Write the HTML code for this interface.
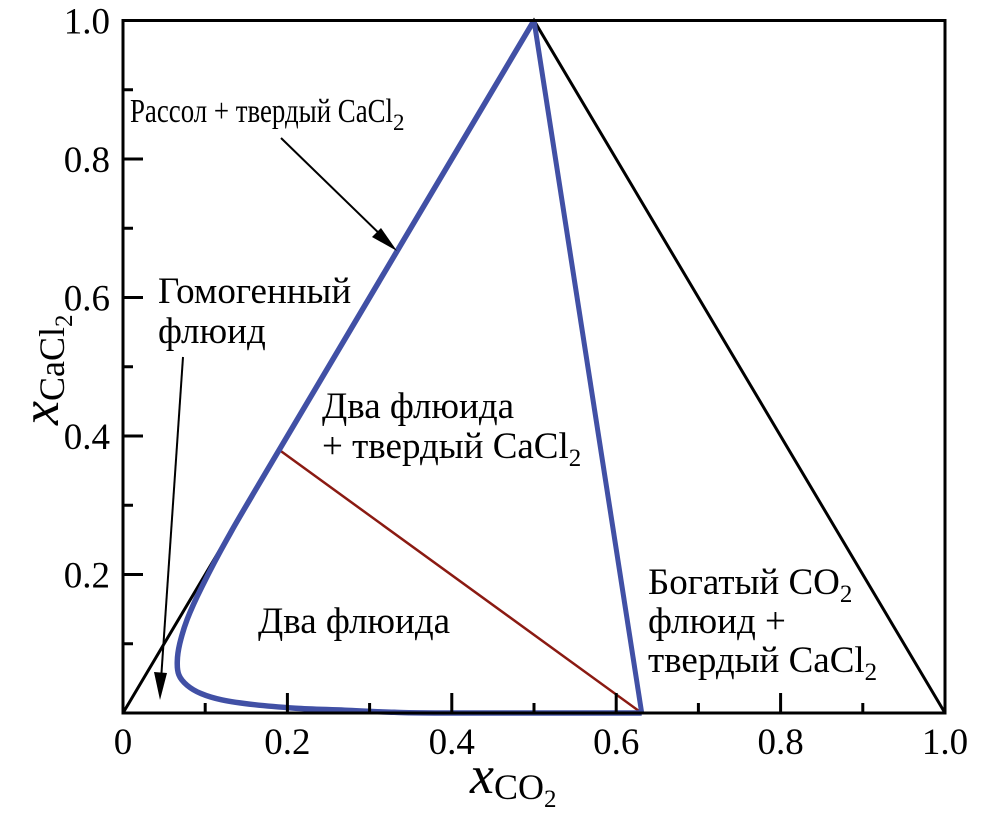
<!DOCTYPE html>
<html><head><meta charset="utf-8"><style>
html,body{margin:0;padding:0;background:#fff;}
svg, svg text, svg tspan{font-family:"Liberation Serif","DejaVu Serif","Times New Roman",serif !important;}
</style></head><body>
<svg id="chart" width="985" height="814" viewBox="0 0 985 814">
<g id="marks"></g>
<g id="axes"></g>
<g font-size="37" fill="#000">
<text x="130" y="122" font-size="34" textLength="263" lengthAdjust="spacingAndGlyphs">Рассол + твердый CaCl</text>
<text x="393" y="130" font-size="23">2</text>
<text x="158" y="303">Гомогенный</text>
<text x="158" y="343">флюид</text>
<text x="322" y="418">Два флюида</text>
<text x="322" y="458">+ твердый CaCl<tspan font-size="25" dy="8">2</tspan></text>
<text x="258" y="633">Два флюида</text>
<text x="648" y="594">Богатый CO<tspan font-size="25" dy="8">2</tspan></text>
<text x="648" y="633">флюид +</text>
<text x="648" y="672">твердый CaCl<tspan font-size="25" dy="8">2</tspan></text>
</g>
<g>
<line x1="281" y1="138" x2="385" y2="239" stroke="#000" stroke-width="2"/>
<polygon points="397,251 372,237 381,228" fill="#000"/>
</g>
<g>
<line x1="183" y1="357" x2="161" y2="680" stroke="#000" stroke-width="2"/>
<polygon points="160,700 154,672 167,673" fill="#000"/>
</g>
<text x="470" y="793" font-size="54" font-style="italic">x<tspan font-style="normal" font-size="36" dy="6">CO</tspan><tspan font-style="normal" font-size="25" dy="8">2</tspan></text>
<text transform="translate(58,425) rotate(-90)" font-size="54" font-style="italic">x<tspan font-style="normal" font-size="36" dy="6">CaCl</tspan><tspan font-style="normal" font-size="25" dy="8">2</tspan></text>
</svg>
<script>
const xTicks=[0,0.2,0.4,0.6,0.8,1.0];
const xTickLabels=["0","0.2","0.4","0.6","0.8","1.0"];
const yTicks=[0.2,0.4,0.6,0.8,1.0];
const yTickLabels=["0.2","0.4","0.6","0.8","1.0"];
const triangleX=[0,0.5,1];
const triangleY=[0,1,0];
const bindX=[0.5,0.19,0.126,0.095,0.078,0.069,0.066,0.068,0.078,0.095,0.12,0.16,0.21,0.27,0.33,0.4,0.631];
const bindY=[1,0.38,0.25,0.18,0.135,0.1,0.075,0.055,0.04,0.028,0.019,0.012,0.007,0.004,0.001,0.0,0.0];
const rightBlueX=[0.631,0.5];
const rightBlueY=[0,1];
const tieX=[0.19,0.631,1.0];
const tieY=[0.38,0,0];
const X0=123,X1=945,Y0=713,Y1=20.5;
const sx=v=>X0+v*(X1-X0), sy=v=>Y0-v*(Y0-Y1);
const NS="http://www.w3.org/2000/svg";
const marks=document.getElementById('marks'), axes=document.getElementById('axes');
function mk(tag,attrs,parent){const e=document.createElementNS(NS,tag);for(const k in attrs)e.setAttribute(k,attrs[k]);parent.appendChild(e);return e;}
function pts(xs,ys){return xs.map((x,i)=>sx(x).toFixed(1)+','+sy(ys[i]).toFixed(1)).join(' ');}
function smooth(xs,ys){const P=xs.map((x,i)=>[sx(x),sy(ys[i])]);let d='M'+P[0].join(',');
 for(let i=0;i<P.length-1;i++){const p0=P[Math.max(i-1,0)],p1=P[i],p2=P[i+1],p3=P[Math.min(i+2,P.length-1)];
  const c1=[p1[0]+(p2[0]-p0[0])/6,p1[1]+(p2[1]-p0[1])/6],c2=[p2[0]-(p3[0]-p1[0])/6,p2[1]-(p3[1]-p1[1])/6];
  d+=` C${c1[0].toFixed(1)},${c1[1].toFixed(1)} ${c2[0].toFixed(1)},${c2[1].toFixed(1)} ${p2[0].toFixed(1)},${p2[1].toFixed(1)}`;}
 return d;}
let p=mk('polyline',{points:pts(triangleX,triangleY),fill:'none',stroke:'#000','stroke-width':3},marks);


p=mk('polyline',{points:pts(tieX,tieY),fill:'none',stroke:'#8b1a12','stroke-width':2.5},marks);


p=mk('path',{d:smooth(bindX,bindY),fill:'none',stroke:'#4150a5','stroke-width':5.5,'stroke-linejoin':'round'},marks);


p=mk('polyline',{points:pts(rightBlueX,rightBlueY),fill:'none',stroke:'#4150a5','stroke-width':5},marks);


let f=mk('path',{d:`M${sx(0)},${sy(0)} L${sx(0)},${Y1} L${X1},${Y1} L${X1},${sy(0)} Z`,fill:'none',stroke:'#000','stroke-width':3},axes);


for(let i=1;i<10;i++){const v=i/10,maj=i%2==0,len=maj?20:10;
 let t=mk('line',{x1:sx(v),x2:sx(v),y1:Y0,y2:Y0-len,stroke:'#000','stroke-width':3},axes);
 
 
 t=mk('line',{x1:X0,x2:X0+len,y1:sy(v),y2:sy(v),stroke:'#000','stroke-width':3},axes);
 
 }
xTicks.forEach((v,i)=>{const t=mk('text',{x:sx(v),y:754,'font-size':37,'text-anchor':'middle'},axes);t.textContent=xTickLabels[i];
 
 });
yTicks.forEach((v,i)=>{const t=mk('text',{x:110,y:sy(v)+13,'font-size':37,'text-anchor':'end'},axes);t.textContent=yTickLabels[i];
 
 });
</script>
</body></html>
